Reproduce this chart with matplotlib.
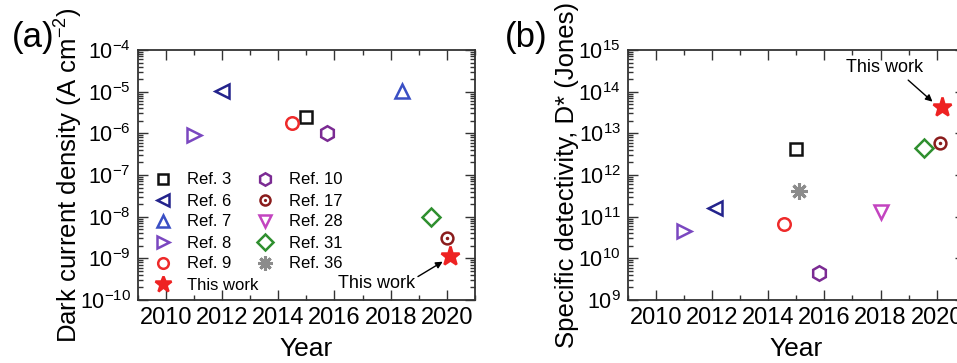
import math
import matplotlib
matplotlib.use("Agg")
import matplotlib.pyplot as plt
from matplotlib.ticker import MultipleLocator, LogLocator, FuncFormatter, NullFormatter

plt.rcParams['font.family'] = ['Liberation Sans', 'DejaVu Sans']
plt.rcParams['mathtext.fontset'] = 'custom'
plt.rcParams['mathtext.rm'] = 'Liberation Sans'
plt.rcParams['mathtext.it'] = 'Liberation Sans:italic'
plt.rcParams['axes.unicode_minus'] = False

# ── data ──────────────────────────────────────────────
refs = ["Ref. 3", "Ref. 6", "Ref. 7", "Ref. 8", "Ref. 9",
        "Ref. 10", "Ref. 17", "Ref. 28", "Ref. 31", "Ref. 36", "This work"]

# (a) dark current density (A cm^-2); None = not reported
jd_year = [2015.0, 2012.0, 2018.4, 2011.0, 2014.5,
           2015.75, 2020.0, None, 2019.45, None, 2020.1]
jd_val = [2.4e-6, 1.05e-5, 1.05e-5, 9e-7, 1.8e-6,
          1.0e-6, 3.0e-9, None, 1.0e-8, None, 1.15e-9]

# (b) specific detectivity (Jones)
dd_year = [2015.0, 2012.1, None, 2011.0, 2014.55,
           2015.8, 2020.1, 2018.0, 2019.55, 2015.1, 2020.2]
dd_val = [4.2e12, 1.6e11, None, 4.6e10, 6.6e10,
          4.5e9, 5.8e12, 1.3e11, 4.5e12, 4.1e11, 4.2e13]

# marker styles
markers = ["s", "<", "^", ">", "o", "h", "o", "v", "D", (8, 2, 0), "*"]
sizes = [8, 10, 10, 10, 9, 10.5, 8.5, 10, 9, 12, 14]
colors = ["#111111", "#23238c", "#3a4fc4", "#7a47c0", "#ee2a2a",
          "#7b2b93", "#8a1c1c", "#c344c0", "#2f8f2f", "#8c8c8c", "#ee2222"]

fig = plt.figure(figsize=(9.57, 3.63), dpi=100)
W, H = 957.0, 363.0
ax1 = fig.add_axes([137.7 / W, 63 / H, 337.3 / W, 250 / H])
ax2 = fig.add_axes([627.7 / W, 63 / H, 337.1 / W, 250 / H])


def sci(v, pos):
    e = int(round(math.log10(v)))
    return r"10$^{%d}$" % e


def style_axis(ax, ylo, yhi):
    ax.set_yscale("log")
    ax.set_xlim(2009, 2021)
    ax.set_ylim(ylo, yhi)
    ax.xaxis.set_major_locator(MultipleLocator(2))
    ax.xaxis.set_minor_locator(MultipleLocator(1))
    ax.yaxis.set_major_locator(LogLocator(base=10, numticks=20))
    ax.yaxis.set_minor_locator(LogLocator(base=10, subs=range(2, 10), numticks=20))
    ax.yaxis.set_major_formatter(FuncFormatter(sci))
    ax.yaxis.set_minor_formatter(NullFormatter())
    ax.tick_params(which="both", direction="in", top=True, right=True,
                   width=1.0, color="#333333")
    ax.tick_params(axis="x", labelsize=17)
    ax.tick_params(axis="y", labelsize=15.5)
    ax.tick_params(which="major", length=7, pad=5)
    ax.tick_params(which="minor", length=3.5)
    for s in ax.spines.values():
        s.set_linewidth(1.3)
        s.set_color("#333333")
    ax.set_xlabel("Year", fontsize=19, labelpad=5.5)


def draw(ax, years, vals):
    handles = []
    for i, lab in enumerate(refs):
        face = colors[i] if lab == "This work" else "none"
        mew = 2.2 if lab == "Ref. 36" else 1.8
        x = [] if years[i] is None else [years[i]]
        y = [] if vals[i] is None else [vals[i]]
        h, = ax.plot(x, y, linestyle="none", marker=markers[i], ms=sizes[i],
                     mfc=face, mec=colors[i], mew=mew, label=lab,
                     clip_on=False)
        if lab == "Ref. 17":
            h2, = ax.plot(x, y, linestyle="none", marker=".", ms=3,
                          color=colors[i])
            h = (h, h2)
        handles.append(h)
    return handles


style_axis(ax1, 1e-10, 1e-4)
style_axis(ax2, 1e9, 1e15)

hs = draw(ax1, jd_year, jd_val)
draw(ax2, dd_year, dd_val)

ax1.set_ylabel("Dark current density (A cm$^{-2}$)", fontsize=18.5)
ax2.set_ylabel("Specific detectivity, D* (Jones)", fontsize=18.5)
ax1.yaxis.set_label_coords(-0.156, 0.5)
ax2.yaxis.set_label_coords(-0.143, 0.5)

# legend in panel (a): column 1 = Ref.3..Ref.9 + This work, column 2 = rest
order = [0, 1, 2, 3, 4, 10, 5, 6, 7, 8, 9]
leg = ax1.legend([hs[i] for i in order], [refs[i] for i in order],
                 ncol=2, loc="upper left", bbox_to_anchor=(0.045, 0.51),
                 frameon=False, fontsize=12, labelspacing=0.36,
                 handlelength=1.2, handletextpad=0.85, columnspacing=-0.2,
                 borderpad=0, borderaxespad=0, markerscale=0.85)

# annotations
ax1.annotate("This work", xy=(2019.85, 10 ** -9.08), xytext=(2017.5, 10 ** -9.6),
             fontsize=13, ha="center", va="center",
             arrowprops=dict(arrowstyle="-|>", color="black", lw=1.0,
                             mutation_scale=10, relpos=(1.0, 0.8),
                             shrinkA=0, shrinkB=0))
ax2.annotate("This work", xy=(2019.85, 10 ** 13.76), xytext=(2018.15, 10 ** 14.57),
             fontsize=13, ha="center", va="center",
             arrowprops=dict(arrowstyle="-|>", color="black", lw=1.0,
                             mutation_scale=10, relpos=(0.75, 0.0),
                             shrinkA=1, shrinkB=0))

fig.text(12 / W, 1 - 37 / H, "(a)", fontsize=25, ha="left", va="center")
fig.text(505 / W, 1 - 37 / H, "(b)", fontsize=25, ha="left", va="center")

fig.savefig("out.png", dpi=100)
